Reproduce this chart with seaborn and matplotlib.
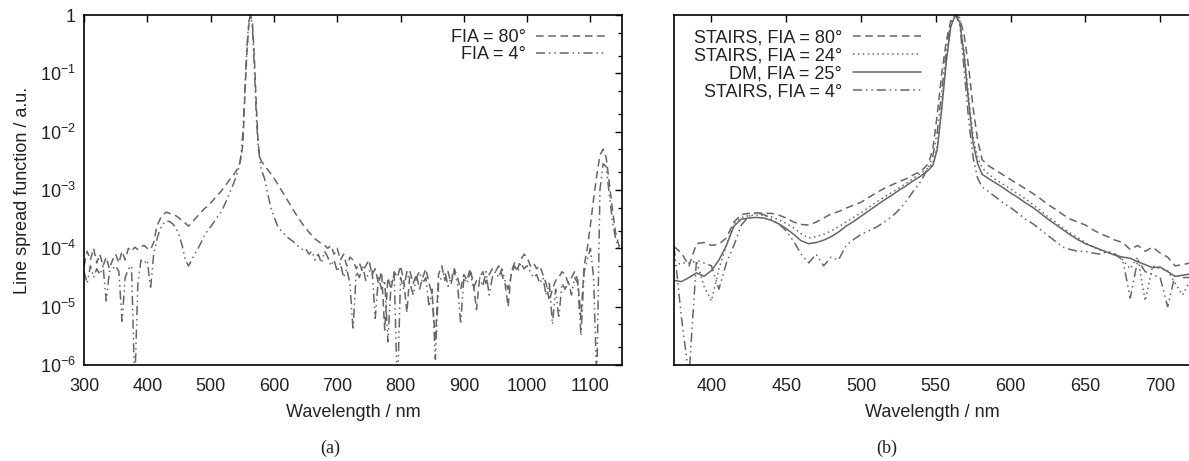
import matplotlib

matplotlib.use("Agg")

import matplotlib.pyplot as plt
import numpy as np
import seaborn as sns
from matplotlib.ticker import FixedLocator, FuncFormatter, LogLocator, NullFormatter, NullLocator

# ---------------------------------------------------------------------------
# Data (log10 of the line spread function)
# ---------------------------------------------------------------------------

# panel (a): wide spectral range
wl_a = (
    list(range(300, 546, 5))
    + list(range(548, 579, 3))
    + list(range(580, 1151, 5))
)

lsf_a_fia80 = [
    # 300 - 345
    -4.30, -4.05, -4.20, -4.00, -4.25, -4.10, -4.30, -4.15, -4.35, -4.20,
    # 350 - 395
    -4.10, -4.25, -4.05, -4.20, -4.00, -4.05, -3.98, -4.02, -3.97, -3.95,
    # 400 - 445
    -4.00, -4.02, -3.90, -3.62, -3.50, -3.42, -3.38, -3.40, -3.42, -3.44,
    # 450 - 495
    -3.48, -3.53, -3.57, -3.62, -3.56, -3.50, -3.44, -3.38, -3.32, -3.28,
    # 500 - 545
    -3.22, -3.16, -3.10, -3.04, -2.97, -2.90, -2.82, -2.76, -2.68, -2.58,
    # 548 - 578
    -2.45, -2.20, -1.40, -0.70, -0.20, 0.00, -0.15, -0.70, -1.50, -2.20, -2.45,
    # 580 - 680
    -2.50, -2.58, -2.65, -2.72, -2.80, -2.88, -2.97, -3.06, -3.15, -3.24,
    -3.33, -3.42, -3.50, -3.58, -3.65, -3.72, -3.78, -3.84, -3.88, -3.92, -3.95,
    # 685 - 1150
    -4.00, -3.95, -4.10, -4.00, -4.20, -4.10, -4.30, -4.15, -4.20, -4.35,
    -4.25, -4.40, -4.30, -4.20, -4.45, -4.35, -4.60, -4.40, -5.40, -4.50,
    -4.70, -4.40, -4.50, -4.30, -4.55, -5.10, -4.40, -4.60, -4.45, -4.70,
    -4.50, -4.35, -4.60, -4.80, -5.60, -4.45, -4.30, -4.55, -4.40, -4.60,
    -4.35, -4.50, -4.70, -4.45, -4.55, -4.35, -4.60, -5.05, -4.50, -4.40,
    -4.60, -4.45, -4.35, -4.40, -4.30, -4.45, -4.60, -5.00, -4.40, -4.25,
    -4.35, -4.20, -4.10, -4.15, -4.30, -4.25, -4.35, -4.30, -4.45, -4.60,
    -4.90, -4.70, -4.55, -4.50, -4.40, -4.45, -4.60, -4.50, -4.40, -4.55,
    -5.20, -4.30, -4.00, -3.60, -3.15, -2.75, -2.40, -2.30, -2.45, -2.90,
    -3.35, -3.75, -3.95, -4.00,
]

lsf_a_fia4 = [
    # 300 - 345
    -4.40, -4.60, -4.30, -4.50, -4.35, -4.45, -4.30, -4.90, -4.40, -4.35,
    # 350 - 395
    -4.30, -4.40, -5.25, -4.50, -4.35, -4.30, -6.40, -4.60, -4.20, -4.25,
    # 400 - 445
    -4.20, -4.70, -4.10, -3.85, -3.67, -3.58, -3.53, -3.54, -3.58, -3.65,
    # 450 - 495
    -3.77, -3.95, -4.20, -4.30, -4.20, -4.10, -4.00, -3.90, -3.78, -3.70,
    # 500 - 545
    -3.63, -3.55, -3.47, -3.40, -3.30, -3.18, -3.05, -2.92, -2.78, -2.60,
    # 548 - 578
    -2.40, -2.00, -1.30, -0.60, -0.12, 0.00, -0.20, -0.90, -1.70, -2.25, -2.50,
    # 580 - 680
    -2.65, -2.80, -3.05, -3.30, -3.45, -3.60, -3.68, -3.74, -3.80, -3.84,
    -3.88, -3.93, -3.98, -4.02, -4.00, -4.10, -4.05, -4.20, -4.10, -4.25, -4.05,
    # 685 - 1150
    -4.15, -4.30, -4.20, -4.40, -4.25, -4.50, -4.35, -4.60, -5.40, -4.40,
    -4.50, -4.30, -4.55, -4.40, -4.35, -5.20, -4.50, -4.70, -4.55, -5.60,
    -4.60, -4.45, -6.50, -4.50, -4.70, -4.40, -4.60, -4.80, -4.50, -4.40,
    -4.60, -4.50, -5.00, -4.70, -5.90, -4.60, -4.50, -4.40, -4.65, -4.50,
    -4.40, -4.60, -5.30, -4.50, -4.60, -4.40, -4.70, -4.55, -4.50, -4.65,
    -4.40, -4.80, -4.50, -4.40, -4.50, -4.35, -4.55, -4.70, -4.45, -4.30,
    -4.40, -4.25, -4.35, -4.30, -4.40, -4.50, -4.45, -4.60, -4.50, -4.80,
    -4.60, -5.30, -4.70, -5.20, -4.60, -4.70, -4.55, -4.80, -4.50, -4.60,
    -5.50, -4.40, -4.20, -4.00, -4.50, -6.30, -3.00, -2.55, -2.60, -3.10,
    -3.55, -3.85, -4.00, -4.05,
]

# panel (b): zoom on the visible range
wl_b = list(range(375, 546, 5)) + list(range(548, 582, 3)) + list(range(585, 721, 5))

lsf_b_stairs80 = [
    -3.97, -4.08, -4.30, -3.92, -3.90, -3.95, -3.93, -3.82, -3.55, -3.42,
    -3.40, -3.39, -3.40, -3.40, -3.43, -3.48, -3.55, -3.59, -3.60, -3.55,
    -3.48, -3.41, -3.37, -3.31, -3.26, -3.21, -3.13, -3.05, -2.98, -2.92,
    -2.86, -2.81, -2.74, -2.68, -2.55,
    -2.30, -1.70, -1.00, -0.45, -0.10, 0.00, -0.05, -0.35, -0.90, -1.60, -2.15, -2.48,
    -2.58, -2.66, -2.74, -2.82, -2.90, -2.98, -3.06, -3.15, -3.25, -3.33,
    -3.42, -3.50, -3.55, -3.60, -3.68, -3.75, -3.80, -3.86, -3.90, -4.02,
    -3.95, -4.05, -3.98, -4.08, -4.15, -4.30, -4.28, -4.25,
]

lsf_b_stairs24 = [
    -4.30, -4.25, -4.25, -4.22, -4.65, -4.90, -4.35, -3.95, -3.58, -3.47,
    -3.44, -3.43, -3.43, -3.46, -3.51, -3.57, -3.65, -3.75, -3.82, -3.80,
    -3.76, -3.70, -3.63, -3.55, -3.47, -3.39, -3.30, -3.21, -3.13, -3.05,
    -2.97, -2.89, -2.80, -2.71, -2.62,
    -2.55, -2.25, -1.55, -0.75, -0.18, 0.00, -0.10, -0.65, -1.40, -2.10, -2.45, -2.62,
    -2.72, -2.82, -2.90, -2.98, -3.07, -3.15, -3.25, -3.35, -3.46, -3.55,
    -3.65, -3.74, -3.82, -3.90, -3.98, -4.03, -4.07, -4.10, -4.20, -4.35,
    -4.15, -4.90, -4.30, -4.35, -4.38, -4.60, -4.80, -4.55,
]

lsf_b_dm25 = [
    -4.55, -4.57, -4.50, -4.42, -4.48, -4.38, -4.20, -3.95, -3.62, -3.50,
    -3.48, -3.47, -3.48, -3.52, -3.58, -3.66, -3.76, -3.87, -3.92, -3.90,
    -3.86, -3.80, -3.72, -3.62, -3.54, -3.45, -3.36, -3.27, -3.18, -3.10,
    -3.01, -2.93, -2.84, -2.76, -2.66,
    -2.58, -2.30, -1.60, -0.80, -0.20, 0.00, -0.12, -0.70, -1.50, -2.20, -2.55, -2.73,
    -2.80, -2.88, -2.96, -3.05, -3.13, -3.22, -3.30, -3.40, -3.50, -3.59,
    -3.68, -3.77, -3.85, -3.92, -3.97, -4.02, -4.07, -4.12, -4.15, -4.17,
    -4.23, -4.28, -4.33, -4.32, -4.40, -4.48, -4.46, -4.44,
]

lsf_b_stairs4 = [
    -3.97, -5.20, -6.20, -4.20, -4.25, -4.30, -4.70, -4.25, -3.95, -3.60,
    -3.45, -3.39, -3.42, -3.50, -3.58, -3.70, -3.88, -4.10, -4.25, -4.10,
    -4.30, -4.15, -4.20, -3.95, -3.85, -3.76, -3.70, -3.64, -3.56, -3.47,
    -3.35, -3.20, -3.02, -2.85, -2.62,
    -2.42, -2.00, -1.30, -0.60, -0.12, 0.00, -0.15, -0.95, -1.80, -2.45, -2.80, -2.95,
    -3.02, -3.12, -3.22, -3.30, -3.40, -3.50, -3.58, -3.68, -3.78, -3.88,
    -3.98, -4.02, -4.05, -4.05, -4.08, -4.10, -4.05, -4.10, -4.20, -4.85,
    -4.20, -4.40, -4.45, -4.50, -5.00, -4.45, -4.50, -4.50,
]

xticks_a = [300, 400, 500, 600, 700, 800, 900, 1000, 1100]
xticks_b = [400, 450, 500, 550, 600, 650, 700]

# ---------------------------------------------------------------------------
# Style
# ---------------------------------------------------------------------------

sns.set_theme(style="white")
plt.rcParams["font.family"] = ["Liberation Sans", "DejaVu Sans"]
plt.rcParams["mathtext.fontset"] = "custom"
plt.rcParams["mathtext.rm"] = "Liberation Sans"
plt.rcParams["mathtext.it"] = "Liberation Sans:italic"
plt.rcParams["mathtext.default"] = "regular"

LINE_COLOR = "#666666"
TEXT_COLOR = "#222222"
LW = 1.1
DASHED = (0, (5, 3))
DOTTED = (0, (1, 2.2))
DASH_DOT_DOT = (0, (6, 2.5, 1, 2.5, 1, 2.5))
FS = 13


def power_label(value, _pos):
    exponent = int(round(np.log10(value)))
    return "1" if exponent == 0 else rf"$10^{{{exponent}}}$"


def style_axis(ax, xticks, xlim, show_ylabels, right_ticks):
    ax.set_yscale("log")
    ax.set_ylim(1e-6, 1)
    ax.set_xlim(*xlim)
    ax.xaxis.set_major_locator(FixedLocator(xticks))
    ax.xaxis.set_minor_locator(NullLocator())
    ax.yaxis.set_major_locator(LogLocator(base=10, numticks=10))
    ax.yaxis.set_minor_locator(LogLocator(base=10, subs=(2.0, 5.0), numticks=10))
    ax.yaxis.set_minor_formatter(NullFormatter())
    if show_ylabels:
        ax.yaxis.set_major_formatter(FuncFormatter(power_label))
    else:
        ax.yaxis.set_major_formatter(NullFormatter())
    ax.tick_params(which="both", direction="in", top=True, right=right_ticks,
                   colors="black", labelcolor=TEXT_COLOR, labelsize=FS)
    ax.tick_params(which="major", length=5, width=1.0)
    ax.tick_params(which="minor", length=3, width=0.9)
    ax.tick_params(axis="x", pad=9)
    ax.tick_params(axis="y", pad=6)
    for spine in ax.spines.values():
        spine.set_color("black")
        spine.set_linewidth(1.2)
    ax.set_xlabel("Wavelength / nm", fontsize=FS, color=TEXT_COLOR, labelpad=7)
    ax.grid(False)


def draw(ax, wl, log_values, linestyle, label):
    sns.lineplot(x=wl, y=np.power(10.0, log_values), ax=ax, color=LINE_COLOR,
                 linewidth=LW, linestyle=linestyle, label=label)


fig = plt.figure(figsize=(11.89, 4.61), dpi=100)
ax_a = fig.add_axes([0.0707, 0.2082, 0.4525, 0.7592])
ax_b = fig.add_axes([0.5669, 0.2082, 0.4340, 0.7592])

# (a) full range
draw(ax_a, wl_a, lsf_a_fia80, DASHED, "FIA = 80°")
draw(ax_a, wl_a, lsf_a_fia4, DASH_DOT_DOT, "FIA = 4°")
style_axis(ax_a, xticks_a, (300, 1150), True, True)
ax_a.set_ylabel("Line spread function / a.u.", fontsize=FS, color=TEXT_COLOR, labelpad=6)
ax_a.legend(loc="upper right", frameon=False, markerfirst=False, fontsize=FS,
            handlelength=3.8, handletextpad=0.6, labelspacing=0.0,
            borderaxespad=0.4, bbox_to_anchor=(0.995, 1.0), labelcolor=TEXT_COLOR)

# (b) zoom around the main peak
draw(ax_b, wl_b, lsf_b_stairs80, DASHED, "STAIRS, FIA = 80°")
draw(ax_b, wl_b, lsf_b_stairs24, DOTTED, "STAIRS, FIA = 24°")
draw(ax_b, wl_b, lsf_b_dm25, "-", "DM, FIA = 25°")
draw(ax_b, wl_b, lsf_b_stairs4, DASH_DOT_DOT, "STAIRS, FIA = 4°")
style_axis(ax_b, xticks_b, (375, 720), False, False)
ax_b.set_ylabel("")
ax_b.legend(loc="upper left", frameon=False, markerfirst=False, fontsize=FS,
            handlelength=3.8, handletextpad=0.6, labelspacing=0.05,
            borderaxespad=0.4, bbox_to_anchor=(0.01, 1.0), labelcolor=TEXT_COLOR)

# sub-figure captions
fig.text(330 / 1189, 1 - 448 / 461, "(a)", ha="center", va="center", fontsize=FS,
         family=["Liberation Serif", "DejaVu Serif"], color=TEXT_COLOR)
fig.text(887 / 1189, 1 - 448 / 461, "(b)", ha="center", va="center", fontsize=FS,
         family=["Liberation Serif", "DejaVu Serif"], color=TEXT_COLOR)

fig.savefig("out.png", dpi=100)
